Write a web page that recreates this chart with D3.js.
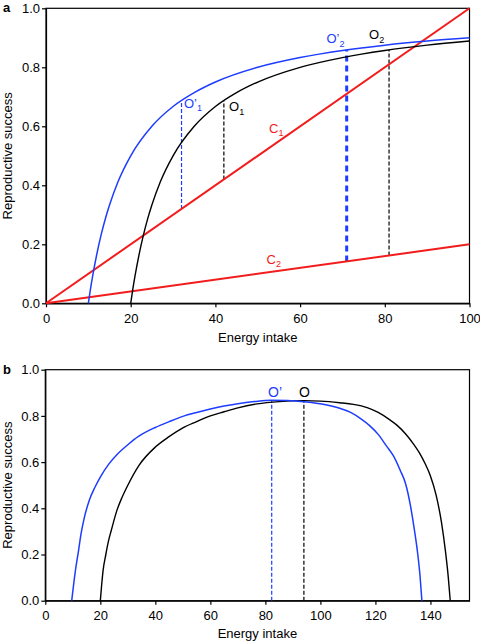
<!DOCTYPE html>
<html>
<head>
<meta charset="utf-8">
<script src="https://cdn.jsdelivr.net/npm/d3@7"></script>
<style>
  html, body { margin: 0; padding: 0; background: #fff; }
  svg { display: block; font-family: "Liberation Sans", Arial, sans-serif; }
</style>
</head>
<body>
<svg id="chart" width="480" height="642"></svg>
<script>
// ---------------- DATA ----------------
// Panel a
const xTicksA = [0, 20, 40, 60, 80, 100];
const yTicks = [0, 0.2, 0.4, 0.6, 0.8, 1.0];
const blackA_x = [20, 20.5, 21, 22, 23, 24, 25, 27, 30, 35, 40, 45, 50, 60, 70, 80, 90, 100];
const blackA_y = [0, 0.048, 0.091, 0.167, 0.231, 0.286, 0.333, 0.412, 0.5, 0.6, 0.667, 0.714, 0.75, 0.8, 0.833, 0.857, 0.875, 0.889];
const blueA_x = [10, 10.5, 11, 12, 13, 14, 15, 17, 20, 25, 30, 35, 40, 50, 60, 70, 80, 90, 100];
const blueA_y = [0, 0.048, 0.091, 0.167, 0.231, 0.286, 0.333, 0.412, 0.5, 0.6, 0.667, 0.714, 0.75, 0.8, 0.833, 0.857, 0.875, 0.889, 0.9];
const c1_x = [0, 100];
const c1_y = [0, 1.0];
const c2_x = [0, 100];
const c2_y = [0, 0.2];
// optimum markers in panel a: name, x, lower y, upper y
const optA_names = ["O’1", "O1", "O’2", "O2"];
const optA_x = [32, 42, 71, 81];
const optA_y0 = [0.32, 0.42, 0.142, 0.162];
const optA_y1 = [0.688, 0.688, 0.859, 0.859];
const costNames = ["C1", "C2"];

// Panel b
const xTicksB = [0, 20, 40, 60, 80, 100, 120, 140];
const blackB_x = [20, 20.5, 21, 22, 23, 24, 26, 28, 30, 34, 40, 45, 50, 55, 60, 65, 70, 77, 85, 94, 100, 107, 112, 117, 121, 125, 128, 131, 134, 136, 138, 140, 142, 144, 145.5, 146.5, 147.2];
const blackB_y = [0, 0.07, 0.13, 0.2, 0.26, 0.305, 0.39, 0.45, 0.5, 0.585, 0.665, 0.71, 0.748, 0.775, 0.8, 0.818, 0.835, 0.852, 0.862, 0.866, 0.864, 0.857, 0.85, 0.836, 0.815, 0.785, 0.758, 0.722, 0.676, 0.64, 0.595, 0.54, 0.46, 0.34, 0.21, 0.1, 0];
const blueB_x = [9.6, 10, 10.5, 11, 12, 13, 14, 16, 18, 20, 23, 26, 30, 34, 40, 45, 50, 55, 60, 65, 70, 76, 82, 88, 95, 101, 107, 111, 115, 118, 121, 124, 126.5, 129, 131, 132.6, 134, 135.2, 136.2, 136.9];
const blueB_y = [0, 0.04, 0.09, 0.135, 0.21, 0.29, 0.35, 0.435, 0.49, 0.535, 0.59, 0.632, 0.675, 0.712, 0.75, 0.775, 0.798, 0.815, 0.83, 0.843, 0.853, 0.862, 0.868, 0.867, 0.86, 0.85, 0.833, 0.815, 0.785, 0.757, 0.72, 0.67, 0.628, 0.565, 0.505, 0.42, 0.32, 0.22, 0.11, 0];
const optB_names = ["O’", "O"];
const optB_x = [82.3, 94];
const optB_y1 = [0.868, 0.866];

// ---------------- STYLE ----------------
const BLUE = "#1e3cff";
const RED = "#f21c1c";
const BLACK = "#000";
const FS = 13;

const svg = d3.select("#chart");
const zip = (xs, ys) => xs.map((x, i) => [x, ys[i]]);

function panel(cfg) {
  const x = d3.scaleLinear().domain(cfg.xDomain).range([cfg.left, cfg.right]);
  const y = d3.scaleLinear().domain([0, 1]).range([cfg.bottom, cfg.top]);
  const g = svg.append("g");

  const xa = g.append("g").attr("transform", `translate(0,${cfg.bottom})`)
    .call(d3.axisBottom(x).tickValues(cfg.xTicks).tickFormat(d3.format("d")).tickSize(4).tickPadding(6).tickSizeOuter(0));
  const ya = g.append("g").attr("transform", `translate(${cfg.left},0)`)
    .call(d3.axisLeft(y).tickValues(yTicks).tickFormat(d3.format(".1f")).tickSize(4).tickPadding(2).tickSizeOuter(0));
  [xa, ya].forEach(a => {
    a.selectAll("text").attr("font-size", FS).attr("fill", "#000").attr("font-family", "Liberation Sans, Arial, sans-serif");
    a.selectAll("line").attr("stroke", "#000").attr("stroke-width", 1.2);
    a.select(".domain").attr("stroke", "#000").attr("stroke-width", 1.2);
  });
  g.append("rect").attr("x", cfg.left).attr("y", cfg.top)
    .attr("width", cfg.right - cfg.left).attr("height", cfg.bottom - cfg.top)
    .attr("fill", "none").attr("stroke", "#000").attr("stroke-width", 1.2);

  g.append("text").attr("x", (cfg.left + cfg.right) / 2).attr("y", cfg.xTitleY)
    .attr("text-anchor", "middle").attr("font-size", FS).text("Energy intake");
  g.append("text").attr("transform", `translate(11.5,${(cfg.top + cfg.bottom) / 2}) rotate(-90)`)
    .attr("text-anchor", "middle").attr("font-size", FS).text("Reproductive success");
  g.append("text").attr("x", 3).attr("y", cfg.letterY).attr("font-size", FS)
    .attr("font-weight", "bold").text(cfg.letter);

  return { x, y, g };
}

const line = (x, y) => d3.line().x(d => x(d[0])).y(d => y(d[1])).curve(d3.curveMonotoneX);

function subLabel(g, txt, px, py, color, size) {
  const m = txt.match(/^(\D+)(\d*)$/);
  const t = g.append("text").attr("x", px).attr("y", py).attr("fill", color).attr("font-size", size);
  t.append("tspan").text(m[1]);
  if (m[2]) t.append("tspan").attr("font-size", size * 0.7).attr("dy", 3.5).text(m[2]);
}

// ---------------- PANEL A ----------------
{
  const { x, y, g } = panel({ xDomain: [0, 100], xTicks: xTicksA, left: 46, right: 469.5, top: 8.3, bottom: 303.3,
    xTitleY: 341.5, letter: "a", letterY: 11.5 });

  optA_x.forEach((xv, i) => {
    const isBlue = optA_names[i].includes("’");
    const thick = i === 2;
    g.append("line").attr("x1", x(xv)).attr("x2", x(xv))
      .attr("y1", y(optA_y0[i])).attr("y2", y(optA_y1[i]))
      .attr("stroke", isBlue ? BLUE : BLACK)
      .attr("stroke-width", thick ? 3 : 1.2)
      .attr("stroke-dasharray", thick ? "6,4" : "4,2");
  });

  [[c1_x, c1_y], [c2_x, c2_y]].forEach(([xs, ys]) => {
    g.append("path").datum(zip(xs, ys)).attr("d", d3.line().x(d => x(d[0])).y(d => y(d[1])))
      .attr("fill", "none").attr("stroke", RED).attr("stroke-width", 2);
  });

  g.append("path").datum(zip(blackA_x, blackA_y)).attr("d", line(x, y))
    .attr("fill", "none").attr("stroke", BLACK).attr("stroke-width", 1.4);
  g.append("path").datum(zip(blueA_x, blueA_y)).attr("d", line(x, y))
    .attr("fill", "none").attr("stroke", BLUE).attr("stroke-width", 1.5);

  const labPos = [[184, 107.7], [229, 111], [326.5, 43.3], [369, 39.3]];
  optA_names.forEach((n, i) => subLabel(g, n, labPos[i][0], labPos[i][1], n.includes("’") ? BLUE : BLACK, FS));
  const cPos = [[269, 132.7], [266.5, 263.5]];
  costNames.forEach((n, i) => subLabel(g, n, cPos[i][0], cPos[i][1], RED, FS));
}

// ---------------- PANEL B ----------------
{
  const { x, y, g } = panel({ xDomain: [0, 154.2], xTicks: xTicksB, left: 45.3, right: 469.5, top: 369.7, bottom: 600.7,
    xTitleY: 637.6, letter: "b", letterY: 374 });

  optB_x.forEach((xv, i) => {
    g.append("line").attr("x1", x(xv)).attr("x2", x(xv))
      .attr("y1", y(0)).attr("y2", y(optB_y1[i]))
      .attr("stroke", i === 0 ? BLUE : BLACK).attr("stroke-width", 1.2)
      .attr("stroke-dasharray", "4,2");
  });

  g.append("path").datum(zip(blackB_x, blackB_y)).attr("d", line(x, y))
    .attr("fill", "none").attr("stroke", BLACK).attr("stroke-width", 1.4);
  g.append("path").datum(zip(blueB_x, blueB_y)).attr("d", line(x, y))
    .attr("fill", "none").attr("stroke", BLUE).attr("stroke-width", 1.5);

  const labPos = [[268, 397], [299, 397]];
  optB_names.forEach((n, i) => subLabel(g, n, labPos[i][0], labPos[i][1], i === 0 ? BLUE : BLACK, 14));
}
</script>
</body>
</html>
